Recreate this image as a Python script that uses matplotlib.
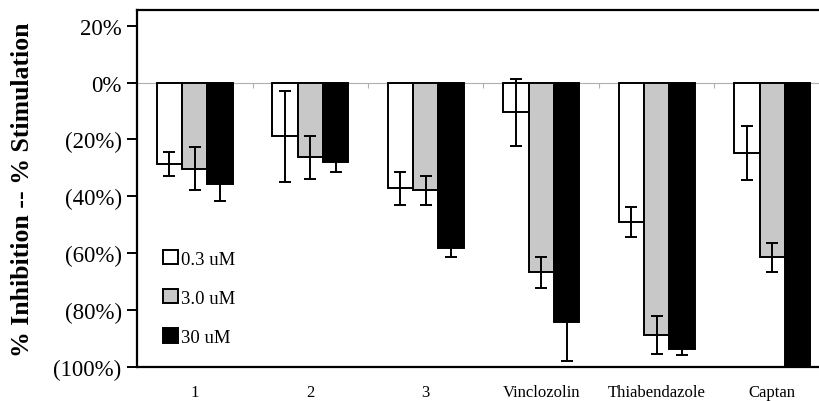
import numpy as np
import matplotlib
matplotlib.use("Agg")
import matplotlib.pyplot as plt
from matplotlib.patches import Patch
from matplotlib.ticker import FuncFormatter

categories = ["1", "2", "3", "Vinclozolin", "Thiabendazole", "Captan"]
series = ["0.3 uM", "3.0 uM", "30 uM"]
colors = ["white", "#c8c8c8", "black"]
values = [
    [-0.286, -0.189, -0.371, -0.104, -0.489, -0.247],
    [-0.303, -0.263, -0.379, -0.667, -0.887, -0.615],
    [-0.356, -0.278, -0.583, -0.843, -0.936, -1.000],
]
errors = [
    [0.041, 0.161, 0.058, 0.118, 0.053, 0.095],
    [0.075, 0.076, 0.052, 0.054, 0.066, 0.050],
    [0.060, 0.036, 0.029, 0.137, 0.021, 0.030],
]
yticks = [0.2, 0.0, -0.2, -0.4, -0.6, -0.8, -1.0]

plt.rcParams["font.family"] = ["Liberation Serif", "DejaVu Serif"]

fig = plt.figure(figsize=(8.2, 4.02), dpi=100)
ax = fig.add_axes([137 / 820, 1 - 368 / 402, 693 / 820, 357 / 402])

x = np.arange(len(categories))
width = 0.22
for i, (name, color) in enumerate(zip(series, colors)):
    pos = x + (i - 1) * width
    ax.bar(pos, values[i], width, color=color, edgecolor="black", linewidth=1.4,
           label=name, zorder=2)
    ax.errorbar(pos, values[i], yerr=errors[i], fmt="none", ecolor="black",
                elinewidth=1.4, capsize=4.5, capthick=1.4, zorder=3)

ax.axhline(0, color="#b0b0b0", linewidth=0.8, zorder=1)
ax.vlines(x[:-1] + 0.5, -0.018, 0, color="#b0b0b0", linewidth=0.8, zorder=1)

ax.set_xlim(-0.5, len(categories) - 0.5)
ax.set_ylim(-1.0, 0.255)
ax.set_yticks(yticks)
ax.yaxis.set_major_formatter(FuncFormatter(
    lambda v, _: f"{v * 100:.0f}%" if v >= -1e-9 else f"({-v * 100:.0f}%)"))
ax.tick_params(axis="y", labelsize=16.5, length=7, width=1.4, pad=4)
ax.set_xticks(x, categories)
ax.tick_params(axis="x", length=0, labelsize=12, pad=12)
for spine in ax.spines.values():
    spine.set_linewidth(1.6)

ax.set_ylabel("% Inhibition -- % Stimulation", fontsize=18.5, fontweight="bold")
ax.yaxis.set_label_coords(-0.148, 0.5)

handles = [Patch(facecolor=c, edgecolor="black", linewidth=1.4) for c in colors]
ax.legend(handles, series, loc="upper left", bbox_to_anchor=(0.037, 0.328), frameon=False,
          fontsize=13.5, handlelength=0.8, handleheight=0.8, handletextpad=0.2,
          labelspacing=1.15, borderaxespad=0.0, borderpad=0.0)

fig.savefig("out.png", dpi=100)
